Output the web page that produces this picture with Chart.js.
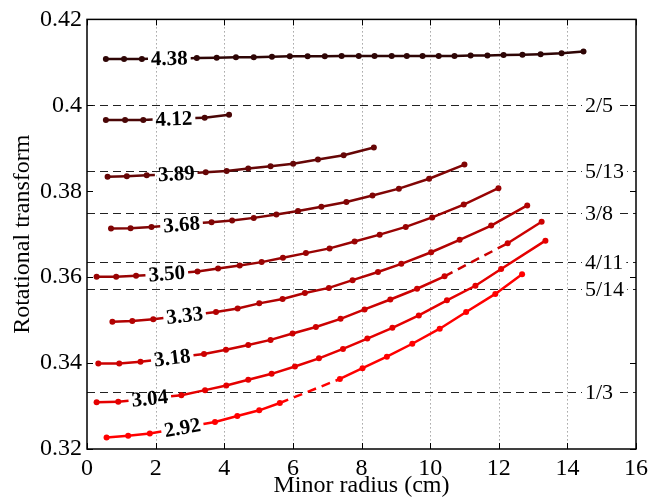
<!DOCTYPE html>
<html lang="en">
<head>
  <meta charset="UTF-8">
  <title>Rotational transform profiles</title>
  <script src="https://cdn.jsdelivr.net/npm/chart.js"></script>
  <style>
    body { margin: 0; background: #fff; }
    #wrap { width: 662px; height: 500px; }
  </style>
</head>
<body>
  <div id="wrap"><canvas id="chart" width="662" height="500"></canvas></div>

  <script>
    // profile labels (one per curve), from top curve to bottom curve
    const levels = ['4.38', '4.12', '3.89', '3.68', '3.50', '3.33', '3.18', '3.04', '2.92'];

    // minor radius (cm) and rotational transform for each profile
    const r438 = [0.55, 1.08, 1.60, 3.20, 3.78, 4.34, 4.86, 5.39, 5.91, 6.43, 6.93, 7.42, 7.92, 8.38, 8.88, 9.32, 9.78, 10.25, 10.71, 11.18, 11.67, 12.14, 12.69, 13.22, 13.83, 14.47];
    const i438 = [0.4108, 0.4108, 0.4108, 0.4110, 0.4111, 0.4112, 0.4112, 0.4113, 0.4114, 0.4114, 0.4114, 0.4115, 0.4115, 0.4115, 0.4115, 0.4115, 0.4115, 0.4115, 0.4115, 0.4116, 0.4116, 0.4117, 0.4118, 0.4119, 0.4121, 0.4125];
    const r412 = [0.55, 1.11, 1.64, 3.43, 4.14];
    const i412 = [0.3966, 0.3966, 0.3966, 0.3971, 0.3978];
    const r389 = [0.60, 1.16, 1.74, 3.46, 4.07, 4.70, 5.35, 6.01, 6.73, 7.48, 8.36];
    const i389 = [0.3834, 0.3835, 0.3837, 0.3844, 0.3847, 0.3853, 0.3858, 0.3864, 0.3874, 0.3884, 0.3902];
    const r368 = [0.70, 1.27, 1.88, 3.63, 4.23, 4.86, 5.52, 6.15, 6.83, 7.56, 8.32, 9.09, 9.97, 11.00];
    const i368 = [0.3713, 0.3714, 0.3717, 0.3728, 0.3732, 0.3738, 0.3746, 0.3754, 0.3764, 0.3775, 0.3790, 0.3806, 0.3829, 0.3862];
    const r350 = [0.28, 0.85, 1.43, 3.22, 3.82, 4.45, 5.09, 5.71, 6.38, 7.07, 7.80, 8.53, 9.29, 10.06, 10.98, 11.99];
    const i350 = [0.3601, 0.3601, 0.3603, 0.3613, 0.3620, 0.3627, 0.3635, 0.3645, 0.3656, 0.3667, 0.3683, 0.3699, 0.3717, 0.3739, 0.3769, 0.3807];
    const r333 = [0.74, 1.32, 1.93, 3.76, 4.39, 5.02, 5.70, 6.35, 7.05, 7.74, 8.48, 9.16, 10.03, 10.86, 11.78, 12.83];
    const i333 = [0.3496, 0.3498, 0.3502, 0.3519, 0.3527, 0.3539, 0.3549, 0.3563, 0.3575, 0.3593, 0.3612, 0.3631, 0.3658, 0.3687, 0.3720, 0.3767];
    const r318 = [0.33, 0.94, 1.56, 3.41, 4.05, 4.70, 5.35, 5.99, 6.67, 7.39, 8.09, 8.84, 9.62, 10.42, 12.26, 13.25];
    const i318 = [0.3399, 0.3399, 0.3403, 0.3421, 0.3431, 0.3442, 0.3454, 0.3469, 0.3484, 0.3503, 0.3525, 0.3548, 0.3573, 0.3602, 0.3679, 0.3729];
    const r304 = [0.28, 0.91, 2.75, 3.44, 4.06, 4.70, 5.38, 6.06, 6.76, 7.46, 8.17, 8.90, 9.67, 10.49, 11.32, 12.07, 13.36];
    const i304 = [0.3309, 0.3310, 0.3325, 0.3337, 0.3348, 0.3361, 0.3375, 0.3392, 0.3411, 0.3433, 0.3457, 0.3482, 0.3511, 0.3546, 0.3580, 0.3619, 0.3685];
    const r292 = [0.57, 1.20, 1.83, 3.73, 4.38, 5.02, 5.62, 7.37, 8.03, 8.74, 9.48, 10.28, 11.05, 11.90, 12.68];
    const i292 = [0.3227, 0.3231, 0.3236, 0.3263, 0.3277, 0.3290, 0.3307, 0.3363, 0.3388, 0.3415, 0.3445, 0.3480, 0.3519, 0.3561, 0.3607];

    // rational surfaces marked on the right
    const fracValues = [2 / 5, 5 / 13, 3 / 8, 4 / 11, 5 / 14, 1 / 3];
    const fracLabels = ['2/5', '5/13', '3/8', '4/11', '5/14', '1/3'];

    const xTicks = [0, 2, 4, 6, 8, 10, 12, 14, 16];
    const yTicks = [0.32, 0.34, 0.36, 0.38, 0.40, 0.42];

    const radii = [r438, r412, r389, r368, r350, r333, r318, r304, r292];
    const iotas = [i438, i412, i389, i368, i350, i333, i318, i304, i292];
    const colors = ['#2e0505', '#4a0606', '#660606', '#800505', '#990303', '#b20202', '#cc0101', '#e50000', '#ff0000'];

    // a wide step in radius is either where the label sits (first one) or a dashed bridge
    const GAP = 1.5;
    const labelAt = [], dashAt = [];
    radii.forEach(r => {
      const gaps = [];
      for (let i = 1; i < r.length; i++) if (r[i] - r[i - 1] > GAP) gaps.push(i - 1);
      labelAt.push(gaps[0]);
      dashAt.push(gaps.slice(1));
    });

    const datasets = radii.map((r, k) => ({
      label: levels[k],
      data: r.map((x, i) => ({ x: x, y: iotas[k][i] })),
      borderColor: colors[k],
      backgroundColor: colors[k],
      borderWidth: 2.5,
      pointRadius: 3,
      pointBorderWidth: 0,
      pointBackgroundColor: colors[k],
      tension: 0,
      segment: {
        borderColor: ctx => ctx.p0DataIndex === labelAt[k] ? 'rgba(0,0,0,0)' : undefined,
        borderDash: ctx => dashAt[k].includes(ctx.p0DataIndex) ? [9, 6] : undefined
      }
    }));

    const SERIF = '"Liberation Serif", "Times New Roman", serif';

    const decor = {
      id: 'decor',
      beforeDatasetsDraw(chart) {
        const { ctx, chartArea: a, scales: { x, y } } = chart;
        ctx.save();
        // dotted vertical grid
        ctx.strokeStyle = '#777';
        ctx.lineWidth = 1;
        ctx.setLineDash([1, 3]);
        xTicks.slice(1, -1).forEach(v => {
          const px = Math.round(x.getPixelForValue(v)) + 0.5;
          ctx.beginPath(); ctx.moveTo(px, a.top); ctx.lineTo(px, a.bottom); ctx.stroke();
        });
        // rational surfaces
        ctx.font = '22px ' + SERIF;
        ctx.textBaseline = 'middle';
        fracValues.forEach((v, i) => {
          const py = Math.round(y.getPixelForValue(v)) + 0.5;
          ctx.strokeStyle = '#222';
          ctx.lineWidth = 1.2;
          ctx.setLineDash([8, 5]);
          ctx.beginPath(); ctx.moveTo(a.left, py); ctx.lineTo(a.right, py); ctx.stroke();
          const tx = a.right - 51;
          const w = ctx.measureText(fracLabels[i]).width;
          ctx.fillStyle = '#fff';
          ctx.fillRect(tx - 3, py - 9, w + 6, 18);
          ctx.fillStyle = '#000';
          ctx.fillText(fracLabels[i], tx, py + 1);
        });
        ctx.restore();
      },
      afterDatasetsDraw(chart) {
        const ctx = chart.ctx;
        ctx.save();
        ctx.font = 'bold 21px ' + SERIF;
        ctx.textAlign = 'center';
        ctx.textBaseline = 'middle';
        chart.data.datasets.forEach((ds, k) => {
          const pts = chart.getDatasetMeta(k).data;
          const j = labelAt[k];
          const p0 = pts[j], p1 = pts[j + 1];
          const cx = (p0.x + p1.x) / 2, cy = (p0.y + p1.y) / 2;
          const ang = Math.atan2(p1.y - p0.y, p1.x - p0.x);
          const ux = Math.cos(ang), uy = Math.sin(ang);
          const half = ctx.measureText(levels[k]).width / 2 + 3;
          const dist = Math.hypot(p1.x - p0.x, p1.y - p0.y) / 2;
          if (dist > half) {
            ctx.strokeStyle = ds.borderColor;
            ctx.lineWidth = ds.borderWidth;
            ctx.setLineDash([]);
            ctx.beginPath();
            ctx.moveTo(p0.x, p0.y); ctx.lineTo(cx - ux * half, cy - uy * half);
            ctx.moveTo(cx + ux * half, cy + uy * half); ctx.lineTo(p1.x, p1.y);
            ctx.stroke();
          }
          ctx.save();
          ctx.translate(cx, cy);
          ctx.rotate(ang);
          ctx.fillStyle = '#000';
          ctx.fillText(levels[k], 0, 1);
          ctx.restore();
        });
        ctx.restore();
      },
      afterDraw(chart) {
        const { ctx, chartArea: a, scales: { x, y } } = chart;
        ctx.save();
        ctx.strokeStyle = '#000';
        ctx.lineWidth = 1.5;
        ctx.setLineDash([]);
        ctx.strokeRect(a.left, a.top, a.right - a.left, a.bottom - a.top);
        ctx.lineWidth = 1;
        ctx.beginPath();
        xTicks.forEach(v => {
          const px = Math.round(x.getPixelForValue(v)) + 0.5;
          ctx.moveTo(px, a.bottom); ctx.lineTo(px, a.bottom - 6);
          ctx.moveTo(px, a.top); ctx.lineTo(px, a.top + 6);
        });
        yTicks.forEach(v => {
          const py = Math.round(y.getPixelForValue(v)) + 0.5;
          ctx.moveTo(a.left, py); ctx.lineTo(a.left + 6, py);
          ctx.moveTo(a.right, py); ctx.lineTo(a.right - 6, py);
        });
        ctx.stroke();
        ctx.restore();
      }
    };

    Chart.defaults.font.family = SERIF;
    Chart.defaults.color = '#000';

    new Chart(document.getElementById('chart'), {
      type: 'line',
      data: { datasets },
      options: {
        responsive: false,
        animation: false,
        layout: { padding: { top: 16, right: 26, left: 0, bottom: 0 } },
        plugins: { legend: { display: false }, tooltip: { enabled: false } },
        scales: {
          x: {
            type: 'linear',
            min: 0,
            max: 16,
            afterBuildTicks: s => { s.ticks = xTicks.map(v => ({ value: v })); },
            afterFit: s => { s.height = 51; },
            grid: { display: false, drawTicks: false },
            border: { display: false },
            ticks: { font: { size: 24 }, padding: 5, maxRotation: 0, autoSkip: false },
            title: { display: true, text: 'Minor radius (cm)', font: { size: 24 }, padding: 0 }
          },
          y: {
            type: 'linear',
            min: 0.32,
            max: 0.42,
            afterBuildTicks: s => { s.ticks = yTicks.map(v => ({ value: v })); },
            afterFit: s => { s.width = 87; },
            grid: { display: false, drawTicks: false },
            border: { display: false },
            ticks: { font: { size: 24 }, padding: 5, callback: v => String(+v.toFixed(2)) },
            title: { display: true, text: 'Rotational transform', font: { size: 24 }, padding: { top: 8, bottom: 0 } }
          }
        }
      },
      plugins: [decor]
    });
  </script>
</body>
</html>
